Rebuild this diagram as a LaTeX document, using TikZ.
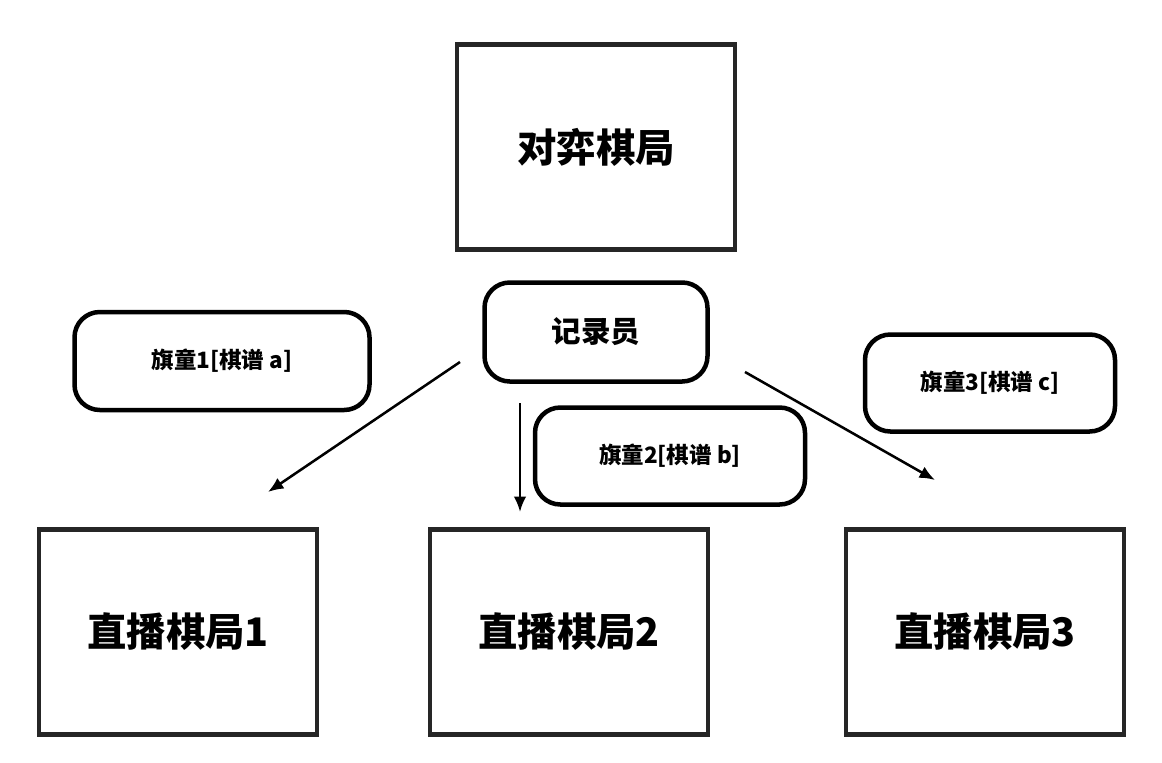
\documentclass[tikz,border=0pt]{standalone}
\usepackage{fontspec}
\setmainfont{Noto Sans CJK SC}
\usetikzlibrary{arrows.meta}
\begin{document}
\begin{tikzpicture}[x=0.025cm,y=-0.025cm,
  bigbox/.style={draw=black!85,line width=3.5pt,minimum width=278*0.025cm,minimum height=205*0.025cm,font=\fontsize{28}{32}\selectfont\bfseries},
  tag/.style={draw,line width=3.2pt,rounded corners=18pt,font=\fontsize{16}{19}\selectfont\bfseries},
  arr/.style={-{Latex[length=11pt,width=9pt]},line width=1.8pt}]
\useasboundingbox (0,0) rectangle (1162,762);
\node[bigbox] (top) at (596,147) {对弈棋局};
\node[bigbox] (b1) at (178,632) {直播棋局1};
\node[bigbox] (b2) at (569,632) {直播棋局2};
\node[bigbox] (b3) at (985,632) {直播棋局3};
\node[tag,minimum width=223*0.025cm,minimum height=99*0.025cm,font=\fontsize{21}{24}\selectfont\bfseries] (rec) at (596,332) {记录员};
\node[tag,minimum width=295*0.025cm,minimum height=98*0.025cm] (f1) at (222,361) {旗童1[棋谱 a]};
\node[tag,minimum width=270*0.025cm,minimum height=97*0.025cm] (f2) at (670,456) {旗童2[棋谱 b]};
\node[tag,minimum width=250*0.025cm,minimum height=97*0.025cm] (f3) at (990,383) {旗童3[棋谱 c]};
\coordinate (s1) at (460,362); \coordinate (e1) at (268,492);
\coordinate (s2) at (520,403); \coordinate (e2) at (520,512);
\coordinate (s3) at (745,372); \coordinate (e3) at (935,480);
\draw[arr] (s1) -- (e1);
\draw[arr] (s2) -- (e2);
\draw[arr] (s3) -- (e3);
\end{tikzpicture}
\end{document}
